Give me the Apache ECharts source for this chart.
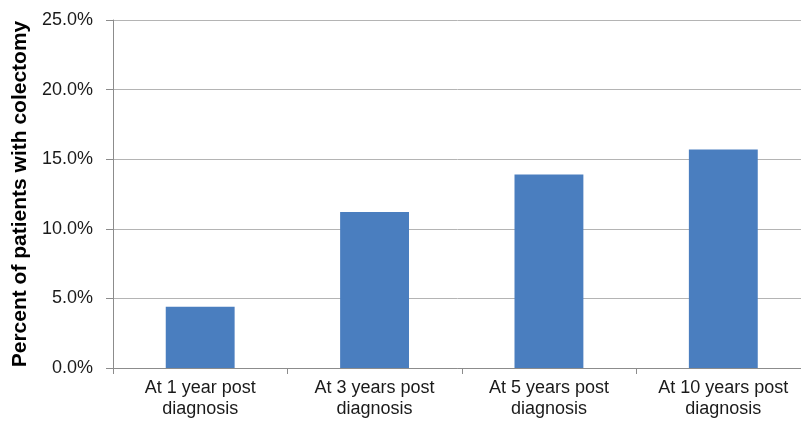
<!DOCTYPE html>
<html><head><meta charset="utf-8">
<script src="https://cdn.jsdelivr.net/npm/echarts@6/dist/echarts.min.js"></script>
<style>html,body{margin:0;padding:0;background:#fff}#c{width:801px;height:422px}</style>
</head><body><div id="c"></div>
<script>
const categories = ["At 1 year post\ndiagnosis", "At 3 years post\ndiagnosis", "At 5 years post\ndiagnosis", "At 10 years post\ndiagnosis"];
const values = [4.4, 11.2, 13.9, 15.7];
const yTitle = "Percent of patients with colectomy";

const chart = echarts.init(document.getElementById('c'), null, {renderer: 'canvas'});
chart.setOption({
  animation: false,
  grid: {left: 113, top: 20, height: 348, width: 697.5, containLabel: false, outerBoundsMode: 'none'},
  xAxis: {
    type: 'category', data: categories,
    axisLine: {lineStyle: {color: '#8c8c8c', width: 1}},
    axisTick: {show: true, length: 6, lineStyle: {color: '#8c8c8c'}},
    axisLabel: {color: '#1a1a1a', fontSize: 18, fontFamily: 'Liberation Sans, Arial, sans-serif', lineHeight: 21, margin: 10}
  },
  yAxis: {
    type: 'value', min: 0, max: 25, interval: 5,
    name: yTitle, nameLocation: 'middle', nameGap: 82,
    nameTextStyle: {color: '#000', fontSize: 21, fontWeight: 'bold', fontFamily: 'Liberation Sans, Arial, sans-serif'},
    axisLine: {show: true, lineStyle: {color: '#8c8c8c', width: 1}},
    axisTick: {show: true, length: 7, lineStyle: {color: '#8c8c8c'}},
    splitLine: {lineStyle: {color: '#b4b4b4', width: 1}},
    axisLabel: {formatter: v => v.toFixed(1) + '%', color: '#1a1a1a', fontSize: 18, fontFamily: 'Liberation Sans, Arial, sans-serif', margin: 20}
  },
  series: [{
    type: 'bar', data: values, barWidth: '39.5%',
    itemStyle: {color: '#4a7ebf'}
  }]
});
</script></body></html>
